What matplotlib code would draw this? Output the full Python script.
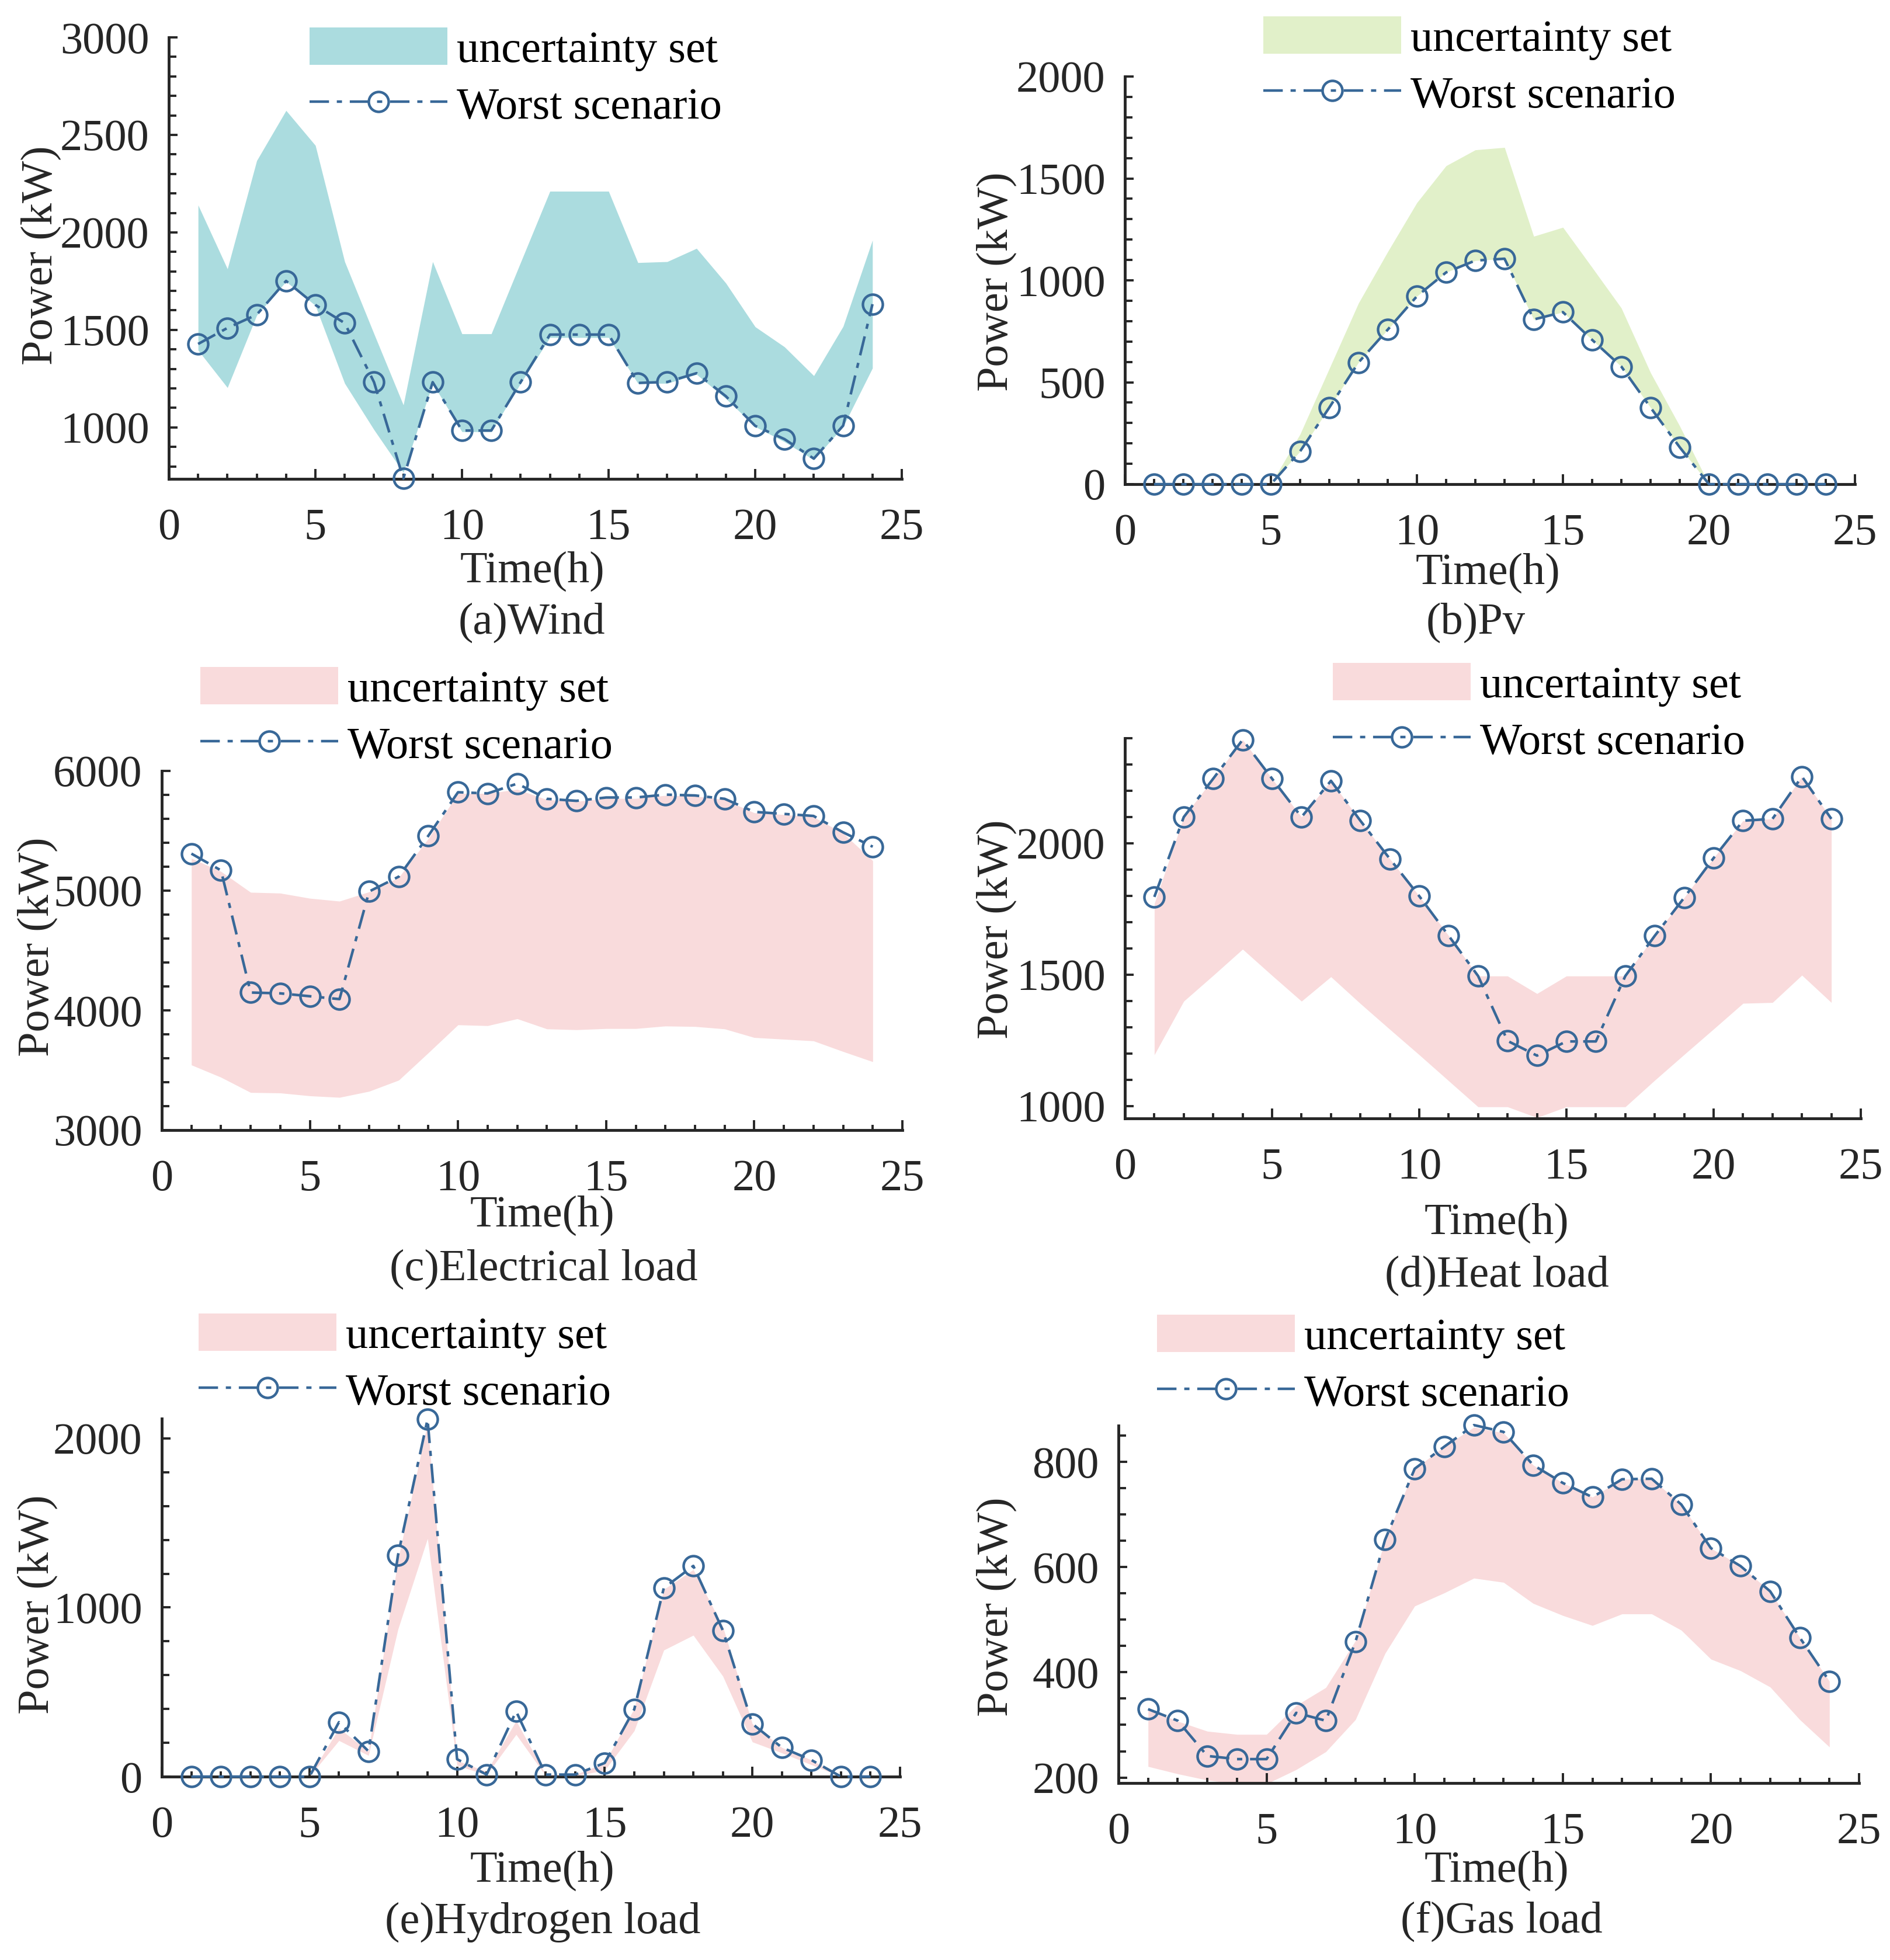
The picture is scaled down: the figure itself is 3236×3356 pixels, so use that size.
import matplotlib
matplotlib.use('Agg')
import matplotlib.pyplot as plt
from matplotlib.ticker import MultipleLocator

# ---------------- data ----------------
hours = list(range(1, 25))

wind_upper = [2140, 1813, 2368, 2625, 2446, 1850, 1480, 1115, 1850, 1480, 1480, 1846,
              2211, 2211, 2211, 1845, 1850, 1918, 1740, 1516, 1413, 1265, 1518, 1960]
wind_lower = [1396, 1204, 1575, 1748, 1625, 1226, 988, 769, 1226, 978, 978, 1226,
              1461, 1461, 1461, 1226, 1226, 1272, 1148, 1004, 926, 834, 1004, 1304]
wind_worst = [1428, 1510, 1578, 1751, 1628, 1535, 1232, 738, 1232, 984, 984, 1232,
              1476, 1476, 1476, 1228, 1233, 1278, 1160, 1008, 940, 840, 1009, 1632]

pv_upper = [0, 0, 0, 0, 0, 245, 567, 888, 1140, 1381, 1562, 1640,
            1652, 1216, 1260, 1063, 864, 547, 285, 0, 0, 0, 0, 0]
pv_lower = [0, 0, 0, 0, 0, 161, 376, 597, 758, 922, 1039, 1097,
            1106, 808, 844, 708, 577, 376, 181, 0, 0, 0, 0, 0]
pv_worst = [0, 0, 0, 0, 0, 161, 376, 597, 758, 922, 1039, 1097,
            1106, 808, 844, 708, 577, 376, 181, 0, 0, 0, 0, 0]

elec_upper = [5270, 5160, 4986, 4979, 4936, 4912, 4990, 5110, 5435, 5812, 5812, 5846,
              5760, 5745, 5770, 5770, 5795, 5790, 5760, 5650, 5635, 5615, 5480, 5250]
elec_lower = [3544, 3441, 3314, 3310, 3286, 3273, 3324, 3417, 3646, 3879, 3872, 3930,
              3845, 3838, 3848, 3848, 3869, 3865, 3845, 3773, 3759, 3745, 3656, 3571]
elec_worst = [5309, 5169, 4149, 4142, 4118, 4094, 4993, 5117, 5459, 5822, 5812, 5894,
              5767, 5750, 5778, 5778, 5802, 5795, 5767, 5658, 5641, 5624, 5487, 5367]

heat_upper = [1770, 2100, 2246, 2394, 2246, 2100, 2238, 2086, 1941, 1799, 1648, 1495,
              1495, 1428, 1495, 1495, 1495, 1648, 1793, 1944, 2086, 2093, 2254, 2093]
heat_lower = [1195, 1399, 1497, 1597, 1497, 1399, 1492, 1390, 1292, 1195, 1096, 997,
              997, 956, 997, 997, 997, 1098, 1196, 1293, 1391, 1394, 1498, 1394]
heat_worst = [1796, 2100, 2246, 2394, 2246, 2100, 2238, 2086, 1941, 1799, 1648, 1495,
              1248, 1192, 1246, 1246, 1495, 1648, 1793, 1944, 2086, 2093, 2254, 2093]

h2_upper = [0, 0, 0, 0, 0, 286, 150, 1283, 2090, 95, 30, 330,
            12, 12, 80, 403, 1107, 1224, 887, 312, 172, 98, 0, 0]
h2_lower = [0, 0, 0, 0, 0, 213, 125, 872, 1408, 66, 10, 249,
            5, 5, 37, 271, 748, 836, 594, 205, 140, 70, 0, 0]
h2_worst = [0, 0, 0, 0, 0, 322, 150, 1310, 2113, 103, 12, 386,
            12, 12, 81, 398, 1115, 1246, 865, 312, 172, 98, 0, 0]

gas_upper = [330, 307, 288, 282, 282, 337, 371, 460, 652, 787, 829, 866,
             855, 794, 760, 733, 767, 768, 719, 636, 602, 554, 466, 383]
gas_lower = [221, 207, 195, 188, 188, 215, 249, 310, 436, 526, 551, 579,
             571, 531, 508, 489, 511, 511, 480, 425, 403, 372, 310, 258]
gas_worst = [330, 308, 241, 235, 235, 323, 308, 458, 652, 787, 829, 870,
             857, 794, 760, 733, 767, 768, 719, 636, 602, 554, 466, 383]

captions = ['(a)Wind', '(b)Pv', '(c)Electrical load', '(d)Heat load',
            '(e)Hydrogen load', '(f)Gas load']
legend_labels = ['uncertainty set', 'Worst scenario']
xlabel_text = 'Time(h)'
ylabel_text = 'Power (kW)'

# ---------------- style ----------------
plt.rcParams['font.family'] = ['Liberation Serif', 'DejaVu Serif']
plt.rcParams['font.size'] = 55

W, H = 3237, 3356
DPI = 100
fig = plt.figure(figsize=(W / DPI, H / DPI), dpi=DPI)
fig.patch.set_facecolor('white')

LINE_C = '#386898'
TEAL = '#ABDCDF'
GREEN = '#E1F0C9'
PINK = '#F9DBDC'
AXC = '#262626'


def fx(px):
    return px / W


def fy(py):
    return 1 - py / H


panels = [
    dict(upper=wind_upper, lower=wind_lower, worst=wind_worst, color=TEAL,
         rect=(289, 64, 1544, 820), ylim=(736, 3000), major=500, minor=100,
         leg=(530, 47), xlab=(912, 978), ylab=(70, 437), cap=(910, 1066)),
    dict(upper=pv_upper, lower=pv_lower, worst=pv_worst, color=GREEN,
         rect=(1926, 131, 3176, 829), ylim=(0, 2000), major=500, minor=100,
         leg=(2163, 28), xlab=(2548, 981), ylab=(1706, 482), cap=(2527, 1066)),
    dict(upper=elec_upper, lower=elec_lower, worst=elec_worst, color=PINK,
         rect=(277, 1320, 1545, 1935), ylim=(3000, 6000), major=1000, minor=200,
         leg=(343, 1142), xlab=(929, 2081), ylab=(64, 1621), cap=(931, 2173)),
    dict(upper=heat_upper, lower=heat_lower, worst=heat_worst, color=PINK,
         rect=(1926, 1264, 3186, 1915), ylim=(953, 2400), major=500, minor=100,
         leg=(2282, 1135), xlab=(2563, 2094), ylab=(1706, 1591), cap=(2563, 2184)),
    dict(upper=h2_upper, lower=h2_lower, worst=h2_worst, color=PINK,
         rect=(277, 2429, 1541, 3042), ylim=(0, 2117), major=1000, minor=200,
         leg=(340, 2249), xlab=(929, 3203), ylab=(64, 2747), cap=(929, 3291)),
    dict(upper=gas_upper, lower=gas_lower, worst=gas_worst, color=PINK,
         rect=(1915, 2441, 3183, 3053), ylim=(189.5, 869), major=200, minor=50,
         leg=(1981, 2251), xlab=(2563, 3203), ylab=(1706, 2751), cap=(2571, 3291)),
]

for p, cap in zip(panels, captions):
    l, t, r, b = p['rect']
    ax = fig.add_axes([fx(l), fy(b), (r - l) / W, (b - t) / H])
    fill = ax.fill_between(hours, p['lower'], p['upper'], color=p['color'],
                           linewidth=0, label=legend_labels[0], zorder=1)
    line, = ax.plot(hours, p['worst'], color=LINE_C, lw=3.2,
                    ls=(0, (7.5, 3, 2, 3)), marker='o', ms=24.5, mew=3.2,
                    mfc='none', mec=LINE_C, label=legend_labels[1], zorder=3,
                    clip_on=False)
    ax.set_xlim(0, 25)
    ax.set_ylim(*p['ylim'])
    ax.xaxis.set_major_locator(MultipleLocator(5))
    ax.xaxis.set_minor_locator(MultipleLocator(1))
    ax.yaxis.set_major_locator(MultipleLocator(p['major']))
    ax.yaxis.set_minor_locator(MultipleLocator(p['minor']))
    for s in ['top', 'right']:
        ax.spines[s].set_visible(False)
    for s in ['left', 'bottom']:
        ax.spines[s].set_linewidth(3.5)
        ax.spines[s].set_color(AXC)
    ax.tick_params(axis='both', which='both', direction='in', color=AXC,
                   width=2.8, labelcolor=AXC, labelsize=55)
    ax.tick_params(axis='x', which='major', length=12, pad=36)
    ax.tick_params(axis='x', which='minor', length=6.5)
    ax.tick_params(axis='y', which='major', length=11, pad=24)
    ax.tick_params(axis='y', which='minor', length=9)

    ax.set_xlabel(xlabel_text, fontsize=55, color=AXC)
    ax.xaxis.set_label_coords(fx(p['xlab'][0]), fy(p['xlab'][1]),
                              transform=fig.transFigure)
    ax.xaxis.label.set_va('center')
    ax.set_ylabel(ylabel_text, fontsize=55, color=AXC)
    ax.yaxis.set_label_coords(fx(p['ylab'][0]), fy(p['ylab'][1]),
                              transform=fig.transFigure)
    ax.yaxis.label.set_va('center')

    fig.text(fx(p['cap'][0]), fy(p['cap'][1]), cap, ha='center', va='center',
             fontsize=55, color=AXC)

    leg = ax.legend(handles=[fill, line], labels=legend_labels,
                    loc='upper left',
                    bbox_to_anchor=(fx(p['leg'][0]), fy(p['leg'][1])),
                    bbox_transform=fig.transFigure, frameon=False,
                    borderpad=0, borderaxespad=0, handlelength=3.09,
                    handleheight=0.92, handletextpad=0.21, labelspacing=0.3,
                    fontsize=55, numpoints=1)
    for txt in leg.get_texts():
        txt.set_color('black')

fig.savefig('out.png', dpi=DPI, facecolor='white')
